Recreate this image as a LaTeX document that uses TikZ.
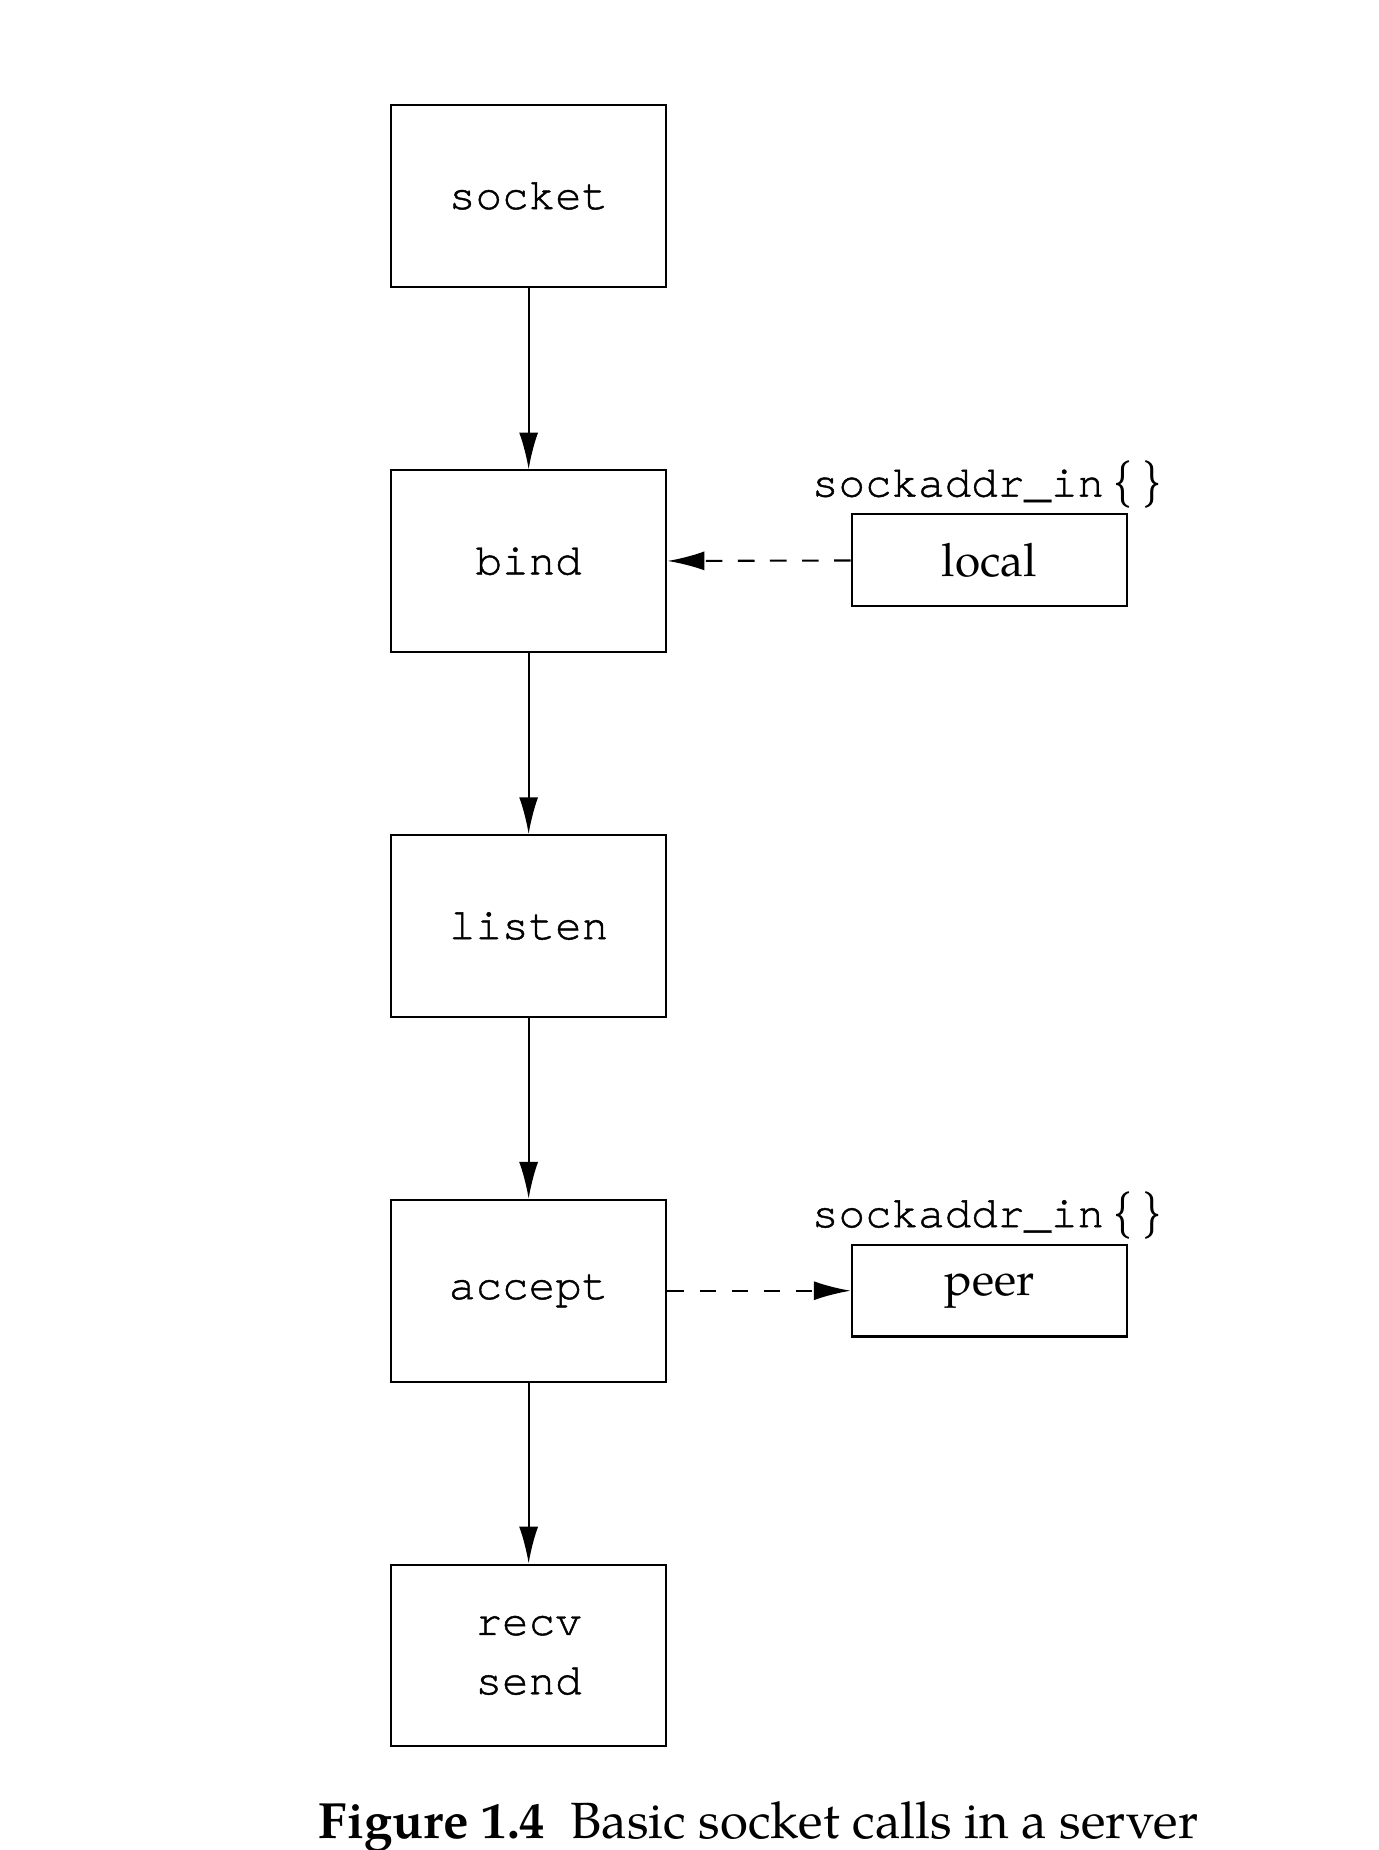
\documentclass[tikz,border=0pt]{standalone}
\usepackage{fontspec}
\setmainfont{texgyrepagella}[Extension=.otf,UprightFont=*-regular,BoldFont=*-bold,ItalicFont=*-italic,BoldItalicFont=*-bolditalic]
\newfontfamily\codefont{texgyrecursor}[Extension=.otf,UprightFont=*-regular,FakeBold=1]
\usetikzlibrary{arrows.meta}

\begin{document}
\begin{tikzpicture}
\tikzstyle{every node}+=[inner sep=0pt]
\tikzstyle{call}=[draw, line width=0.5pt, minimum width=2.32cm, minimum height=1.53cm, align=center, font=\codefont\fontsize{10.6}{14.2}\selectfont]
\tikzstyle{addr}=[draw, line width=0.5pt, minimum width=2.32cm, minimum height=0.77cm, font=\fontsize{11}{14}\selectfont]
\tikzstyle{flow}=[line width=0.5pt, -{Latex[length=0.31cm,width=0.16cm]}]
\tikzstyle{pass}=[flow, dash pattern=on 0.14cm off 0.13cm]
\useasboundingbox (0,0) rectangle (11.6,-15.573);
\node [call] (socket) at (4.45,-1.65) {socket};
\node [call] (bind) at (4.45,-4.725) {bind};
\node [call] (listen) at (4.45,-7.795) {listen};
\node [call] (accept) at (4.45,-10.865) {accept};
\node [call] (recvsend) at (4.45,-13.935) {recv\\send};
\node [addr] (local) at (8.33,-4.715) {local};
\node [addr] (peer) at (8.33,-10.865) {peer};
\node [anchor=base, font=\codefont\fontsize{10.6}{13}\selectfont] (localtype) at (8.31,-4.18) {sockaddr\_in{\rmfamily\fontsize{11.5}{13}\selectfont\,\{\,\}}};
\node [anchor=base, font=\codefont\fontsize{10.6}{13}\selectfont] (peertype) at (8.31,-10.33) {sockaddr\_in{\rmfamily\fontsize{11.5}{13}\selectfont\,\{\,\}}};
\draw [flow] (socket) -- (bind);
\draw [flow] (bind) -- (listen);
\draw [flow] (listen) -- (accept);
\draw [flow] (accept) -- (recvsend);
\draw [pass] (local) -- (bind);
\draw [pass] (accept) -- (peer);
\node [anchor=base, font=\fontsize{12.2}{15}\selectfont] (caption) at (6.385,-15.48) {\textbf{Figure 1.4}\ \ Basic socket calls in a server};
\end{tikzpicture}
\end{document}
